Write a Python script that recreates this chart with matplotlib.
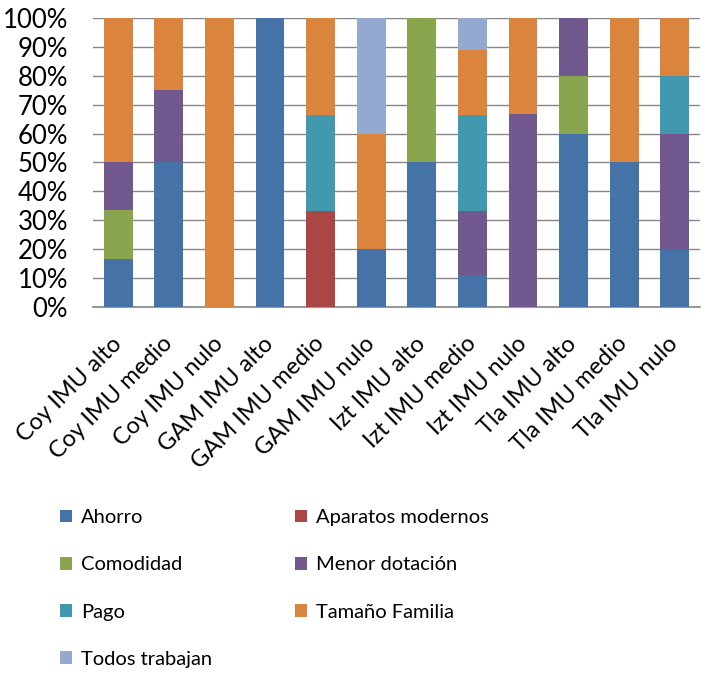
import numpy as np
import matplotlib.pyplot as plt
from matplotlib.ticker import PercentFormatter

plt.rcParams['font.family'] = ['Lato', 'DejaVu Sans']

categories = ['Coy IMU alto', 'Coy IMU medio', 'Coy IMU nulo', 'GAM IMU alto',
              'GAM IMU medio', 'GAM IMU nulo', 'Izt IMU alto', 'Izt IMU medio',
              'Izt IMU nulo', 'Tla IMU alto', 'Tla IMU medio', 'Tla IMU nulo']

# share of each reason per group (%)
ahorro    = [16.7, 50, 0, 100, 0, 20, 50, 11.1, 0, 60, 50, 20]
aparatos  = [0, 0, 0, 0, 33.3, 0, 0, 0, 0, 0, 0, 0]
comodidad = [16.7, 0, 0, 0, 0, 0, 50, 0, 0, 20, 0, 0]
menor     = [16.7, 25, 0, 0, 0, 0, 0, 22.2, 66.7, 20, 0, 40]
pago      = [0, 0, 0, 0, 33.3, 0, 0, 33.3, 0, 0, 0, 20]
tamano    = [50, 25, 100, 0, 33.4, 40, 0, 22.3, 33.3, 0, 50, 20]
todos     = [0, 0, 0, 0, 0, 40, 0, 11.1, 0, 0, 0, 0]

series = [('Ahorro', ahorro, '#4572A7'),
          ('Aparatos modernos', aparatos, '#AA4643'),
          ('Comodidad', comodidad, '#89A54E'),
          ('Menor dotación', menor, '#71588F'),
          ('Pago', pago, '#4198AF'),
          ('Tamaño Familia', tamano, '#DB843D'),
          ('Todos trabajan', todos, '#93A9CF')]

fig = plt.figure(figsize=(7.06, 6.8), dpi=100)
ax = fig.add_axes([93/706, 1 - 307/680, 607/706, 289/680])

x = np.arange(len(categories))
bottom = np.zeros(len(categories))
for name, vals, col in series:
    vals = np.array(vals, dtype=float)
    ax.bar(x, vals / 100, 0.57, bottom=bottom / 100, color=col, label=name, zorder=3)
    bottom += vals

ax.set_xlim(-0.5, len(categories) - 0.5)
ax.set_ylim(0, 1)
ax.set_yticks(np.arange(0, 1.001, 0.1))
ax.yaxis.set_major_formatter(PercentFormatter(1, decimals=0))
ax.grid(axis='y', color='#868686', linewidth=1, zorder=0)
ax.set_xticks(x)
ax.set_xticklabels(categories, rotation=45, ha='right', va='center',
                   rotation_mode='anchor', fontsize=17)
ax.tick_params(axis='y', labelsize=18.5, length=0, pad=18)
ax.tick_params(axis='x', length=0, pad=24)
for s in ['top', 'right', 'left']:
    ax.spines[s].set_visible(False)
ax.spines['bottom'].set_color('#868686')
ax.spines['bottom'].set_linewidth(1.2)

# legend filled row by row, like the original
h, l = ax.get_legend_handles_labels()
order = [0, 2, 4, 6, 1, 3, 5]
fig.legend([h[i] for i in order], [l[i] for i in order],
           loc='upper left', bbox_to_anchor=(42/706, 1 - 491/680), ncol=2,
           frameon=False, fontsize=14.5, handlelength=0.6, handleheight=0.6,
           handletextpad=0.45, columnspacing=4.1, labelspacing=1.5)

fig.savefig('out.png', dpi=100)
